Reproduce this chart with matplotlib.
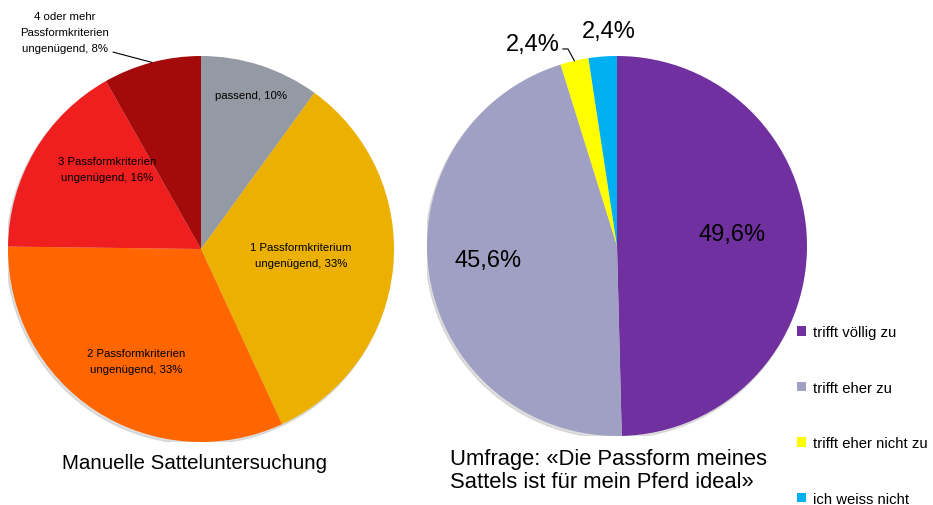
import matplotlib.pyplot as plt
import numpy as np

# data
manual_labels = ["passend, 10%", "1 Passformkriterium\nungenügend, 33%",
                 "2 Passformkriterien\nungenügend, 33%", "3 Passformkriterien\nungenügend, 16%",
                 "4 oder mehr\nPassformkriterien\nungenügend, 8%"]
manual_values = [10, 33.1, 32.1, 16.6, 8.2]
manual_colors = ["#939AA4", "#EBB000", "#FF6600", "#F01F1F", "#A50A0A"]

survey_labels = ["trifft völlig zu", "trifft eher zu", "trifft eher nicht zu", "ich weiss nicht"]
survey_values = [49.6, 45.6, 2.4, 2.4]
survey_text = ["49,6%", "45,6%", "2,4%", "2,4%"]
survey_colors = ["#7030A0", "#9FA0C3", "#FFFF00", "#00B0F0"]

plt.rcParams["font.family"] = ["Liberation Sans", "DejaVu Sans"]

W, H = 933, 506
fig = plt.figure(figsize=(W / 100, H / 100), dpi=100)


def pie_axes(cx, cy, r):
    ax = fig.add_axes([(cx - r) / W, (H - cy - r) / H, 2 * r / W, 2 * r / H])
    return ax


def finish(ax):
    ax.set_xlim(-1, 1)
    ax.set_ylim(-1, 1)
    ax.set_aspect("equal")
    ax.axis("off")


def mid_angles(values):
    frac = np.array(values) / np.sum(values)
    ends = 90 - 360 * np.cumsum(frac)
    starts = ends + 360 * frac
    return (starts + ends) / 2


def polar(d, a):
    t = np.deg2rad(a)
    return d * np.cos(t), d * np.sin(t)


# left pie
ax1 = pie_axes(201, 250, 193)
ax1.add_patch(plt.Circle((-0.008, -0.012), 1.0, color="#c8c8c8", alpha=0.6, zorder=0))
ax1.pie(manual_values, colors=manual_colors, startangle=90, counterclock=False,
        radius=1, wedgeprops=dict(linewidth=0), frame=True)
finish(ax1)
ang = mid_angles(manual_values)
dists = [0.84, 0.52, 0.67, 0.64]
offs = [0, 2, 3, -10]
for lab, a, d, o in zip(manual_labels[:4], ang[:4], dists, offs):
    x, y = polar(d, a + o)
    ax1.text(x, y, lab, ha="center", va="center", fontsize=8.2, linespacing=1.75)
# outside label for the smallest slice with leader line
ax1.text(-0.705, 1.125, manual_labels[4], ha="center", va="center", fontsize=8.2,
         linespacing=1.75, clip_on=False)
ex, ey = polar(1.0, ang[4])
ax1.plot([-0.455, ex], [1.02, ey], color="black", lw=0.8, clip_on=False)
fig.text(195 / W, 1 - 464 / H, "Manuelle Sattel\u00aduntersuchung".replace("\u00ad", ""),
         ha="center", va="center", fontsize=14.8)

# right pie
ax2 = pie_axes(617, 247, 190)
ax2.add_patch(plt.Circle((-0.008, -0.012), 1.0, color="#c8c8c8", alpha=0.6, zorder=0))
wedges, _ = ax2.pie(survey_values, colors=survey_colors, startangle=90, counterclock=False,
                    radius=1, wedgeprops=dict(linewidth=0), frame=True)
finish(ax2)
ang2 = mid_angles(survey_values)
x, y = polar(0.61, 6)
ax2.text(x, y, survey_text[0], ha="center", va="center", fontsize=17)
x, y = polar(0.68, 186)
ax2.text(x, y, survey_text[1], ha="center", va="center", fontsize=17)
ax2.text(-0.442, 1.064, survey_text[2], ha="center", va="center", fontsize=17, clip_on=False)
ex, ey = polar(1.0, ang2[2])
ax2.plot([-0.285, -0.258, ex], [1.037, 1.037, ey], color="black", lw=0.8, clip_on=False)
ax2.text(-0.042, 1.13, survey_text[3], ha="center", va="center", fontsize=17, clip_on=False)
fig.text(450 / W, 1 - 471 / H, "Umfrage: «Die Passform meines\nSattels ist für mein Pferd ideal»",
         ha="left", va="center", fontsize=15.8, linespacing=1.12)

fig.legend(wedges, survey_labels, loc="upper left", bbox_to_anchor=(797 / W, 1 - 326 / H),
           frameon=False, fontsize=10.7, handlelength=0.62, handleheight=0.62,
           handletextpad=0.45, labelspacing=2.8, borderpad=0, borderaxespad=0)

fig.savefig("out.png", dpi=100)
